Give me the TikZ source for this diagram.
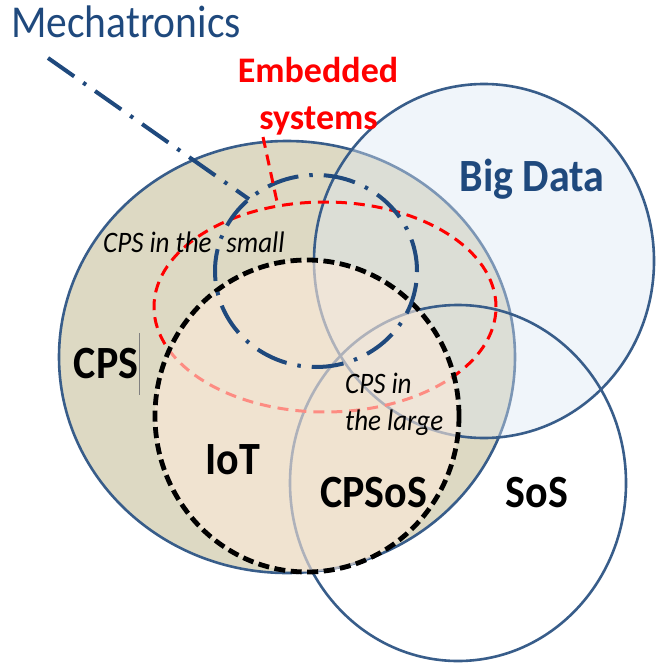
\documentclass[tikz,border=0pt]{standalone}
\usepackage{fontspec}
\setmainfont{Carlito}
\usetikzlibrary{shapes.geometric}
\definecolor{edge}{RGB}{56,93,138}
\definecolor{mechblue}{RGB}{31,73,125}
\definecolor{cpsfill}{RGB}{221,217,195}
\definecolor{bdfill}{RGB}{220,230,242}
\definecolor{iotfill}{RGB}{253,234,218}
\definecolor{embred}{RGB}{255,0,0}
\newcommand{\tallbox}[1]{\scalebox{1}[1.1]{#1}}
\begin{document}
\begin{tikzpicture}[x=1pt,y=-1pt,
  blob/.style={ellipse, inner sep=0pt, outer sep=0pt},
  rim/.style={draw=edge, line width=2.6pt},
  reddash/.style={draw=embred, line width=3pt, dash pattern=on 11pt off 7pt},
  blackdash/.style={draw=black, line width=4.8pt, dash pattern=on 11pt off 5.5pt},
  mechdash/.style={draw=mechblue, line width=4pt, dash pattern=on 32pt off 11pt on 3.5pt off 11pt},
  biglbl/.style={inner sep=0pt, anchor=base, font=\fontsize{42}{50}\selectfont\bfseries},
  itlbl/.style={inner sep=0pt, anchor=base west, font=\fontsize{27}{32}\selectfont\itshape},
]
\useasboundingbox (0,0) rectangle (655,663);
% CPS
\node[blob, minimum width=456pt, minimum height=432pt, fill=cpsfill, rim] (cps) at (287,357) {};
% Big Data
\node[blob, minimum width=340pt, minimum height=354pt, fill=bdfill, fill opacity=0.42, rim] (bd) at (484,261) {};
% SoS
\node[blob, minimum width=336pt, minimum height=356pt, rim] (sos) at (458,483) {};
% Embedded systems ellipse
\node[blob, minimum width=342pt, minimum height=210pt, reddash] (emb) at (325,307) {};
% IoT fill
\node[blob, minimum width=304pt, minimum height=312pt, fill=iotfill, fill opacity=0.6] (iotf) at (307,416) {};
% IoT outline
\node[blob, minimum width=304pt, minimum height=312pt, blackdash] (iot) at (307,416) {};
% Mechatronics ellipse
\node[blob, minimum width=202pt, minimum height=192pt, mechdash] (mech) at (316,271) {};
% connectors
\coordinate (mtail) at (48,58);
\draw[mechdash] (mtail) -- (mech.133);
\coordinate (etail) at (263,137);
\draw[reddash] (etail) -- (emb.115);
% texts
\node[inner sep=0pt, anchor=base west, text=mechblue, font=\fontsize{41.5}{48}\selectfont] (tmech) at (11,38) {\tallbox{Mechatronics}};
\node[inner sep=0pt, anchor=base, text=embred, font=\fontsize{36}{42}\selectfont\bfseries] (temb1) at (318,83) {Embedded};
\node[inner sep=0pt, anchor=base, text=embred, font=\fontsize{36}{42}\selectfont\bfseries] (temb2) at (318.5,130) {systems};
\node[biglbl, text=mechblue] (tbd) at (532,191) {\tallbox{Big Data}};
\node[biglbl] (tcps) at (106,378) {\tallbox{CPS}};
\node[biglbl] (tiot) at (232.5,474) {\tallbox{IoT}};
\node[biglbl] (tcpsos) at (373.5,507) {\tallbox{CPSoS}};
\node[biglbl] (tsos) at (537,507) {\tallbox{SoS}};
\node[itlbl] (tsmall) at (103,252) {\tallbox{CPS in the\hspace{0.55em}small}};
\node[itlbl] (tlarge1) at (345,393) {\tallbox{CPS in}};
\node[itlbl] (tlarge2) at (345,430) {\tallbox{the large}};
% cursor mark after CPS
\coordinate (cur1) at (139,333);
\coordinate (cur2) at (139,395);
\draw[draw=gray, line width=0.8pt] (cur1) -- (cur2);
\end{tikzpicture}
\end{document}
